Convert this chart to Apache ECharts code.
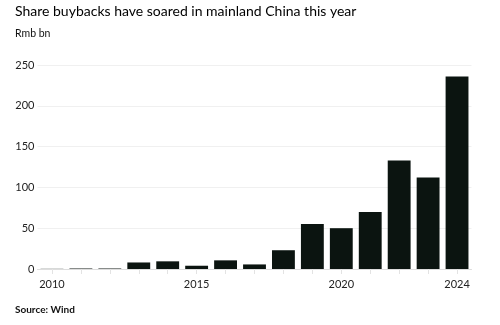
<!DOCTYPE html>
<html>
<head>
<meta charset="utf-8">
<script src="https://cdn.jsdelivr.net/npm/echarts@6/dist/echarts.min.js"></script>
<style>
html,body{margin:0;padding:0;background:#fff;}
#chart{width:500px;height:325px;}
</style>
</head>
<body>
<div id="chart"></div>
<script>
const years = ['2010','2011','2012','2013','2014','2015','2016','2017','2018','2019','2020','2021','2022','2023','2024'];
const buybacks = [0.2, 0.6, 0.6, 8, 9.4, 4, 10.6, 5.6, 23, 55, 50, 70, 133, 112, 236];
const yTicks = [0, 50, 100, 150, 200, 250];
const shownYears = ['2010','2015','2020','2024'];

const chart = echarts.init(document.getElementById('chart'), null, {renderer:'canvas'});
const font = 'Lato';
chart.setOption({
  animation: false,
  backgroundColor: '#fff',
  title: [
    {text: 'Share buybacks have soared in mainland China this year', left: 15, top: 4, padding: 0,
     textStyle: {fontFamily: font, fontSize: 14, fontWeight: 'normal', color: '#000'}},
    {text: 'Rmb bn', left: 15, top: 28, padding: 0,
     textStyle: {fontFamily: font, fontSize: 10.5, fontWeight: 'normal', color: '#111'}},
    {text: 'Source: Wind', left: 15, top: 305, padding: 0,
     textStyle: {fontFamily: font, fontSize: 10, fontWeight: 'bold', color: '#111'}}
  ],
  grid: {left: 37.5, right: 28.5, top: 65, bottom: 56, containLabel: false},
  xAxis: {
    type: 'category',
    data: years,
    axisLine: {show: true, lineStyle: {color: '#ddd', width: 1}},
    axisTick: {show: true, alignWithLabel: true, interval: 0, length: 5, lineStyle: {color: '#e3e3e3'}},
    axisLabel: {
      interval: 0,
      formatter: v => shownYears.includes(v) ? v : '',
      fontFamily: font, fontSize: 11, color: '#222', margin: 10
    }
  },
  yAxis: {
    type: 'value',
    min: yTicks[0], max: yTicks[yTicks.length-1], interval: 50,
    axisLine: {show: false},
    axisTick: {show: false},
    axisLabel: {fontFamily: font, fontSize: 11, color: '#222', margin: 3},
    splitLine: {lineStyle: {color: '#f0f0f0', width: 1}}
  },
  series: [{
    type: 'bar',
    data: buybacks,
    barCategoryGap: '21%',
    itemStyle: {color: '#0b1410'}
  }]
});
</script>
</body>
</html>
